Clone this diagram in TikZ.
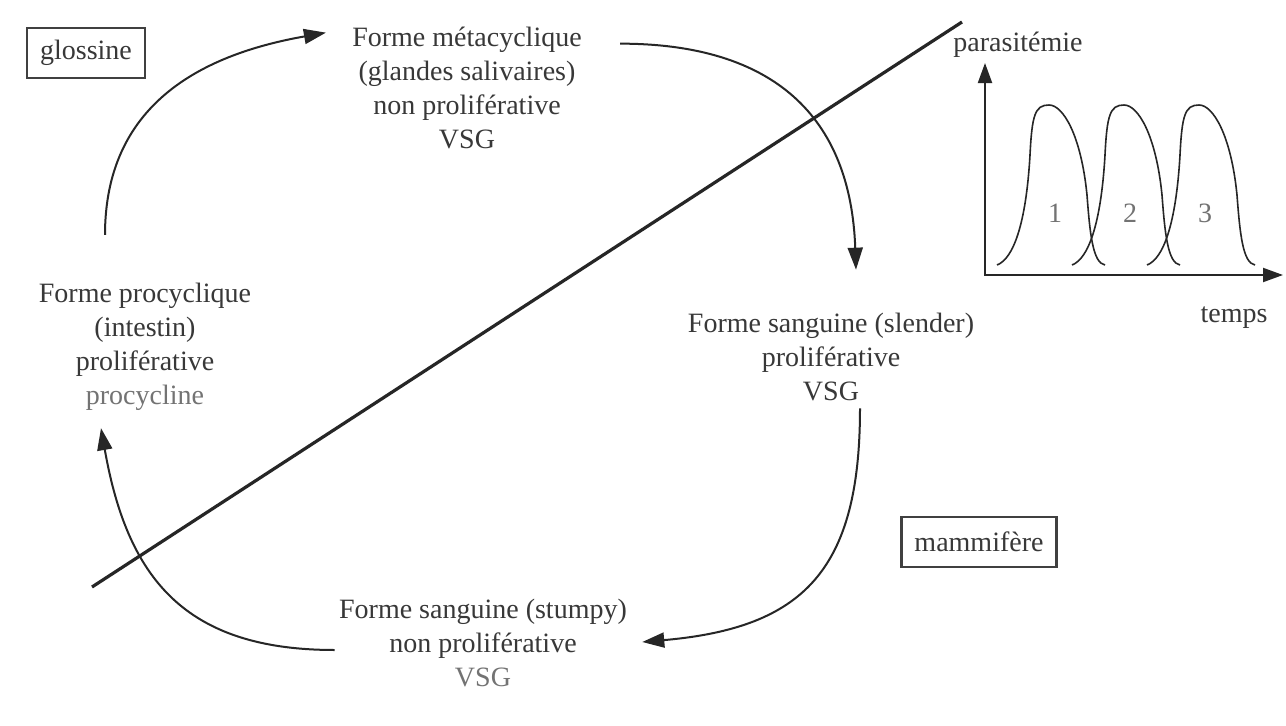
\documentclass[tikz,border=0pt]{standalone}
\usepackage{fontspec}
\setmainfont{Liberation Serif}
\usetikzlibrary{arrows.meta}
\begin{document}
\begin{tikzpicture}[x=0.5pt,y=0.5pt,
  txt/.style={align=center, font=\fontsize{14}{17}\selectfont, text=black!78, inner sep=0pt},
  tagbox/.style={draw=black!75, line width=1.1pt, font=\fontsize{14}{17}\selectfont, text=black!78,
    minimum height=25pt, inner xsep=6.5pt},
  cyc/.style={line width=1pt, draw=black!85, -{Triangle[length=11pt,width=7.5pt]}},
  axisline/.style={line width=1pt, draw=black!85, {Triangle[length=10pt,width=7pt]}-{Triangle[length=10pt,width=7pt]}},
  peak/.style={line width=0.8pt, draw=black!85},
  num/.style={font=\fontsize{14}{17}\selectfont, text=black!55, inner sep=0pt}]
\useasboundingbox (0,0) rectangle (1286,725);
\fill[white] (0,0) rectangle (1286,725);

% cycle nodes
\node[txt] (meta) at (467,637) {Forme métacyclique\\(glandes salivaires)\\non proliférative\\VSG};
\node[txt] (proc) at (145,378) {Forme procyclique\\(intestin)\\proliférative\\\textcolor{black!55}{procycline}};
\node[txt] (slender) at (831,368) {Forme sanguine (slender)\\proliférative\\VSG};
\node[txt] (stumpy) at (483,82) {Forme sanguine (stumpy)\\non proliférative\\\textcolor{black!55}{VSG}};

% host boxes
\node[tagbox] (gl) at (86,672) {glossine};
\node[tagbox] (mam) at (979,183) {mammifère};

% separating line
\coordinate (d1) at (92,138);
\coordinate (d2) at (962,703);
\draw[line width=1.6pt, black!85] (d1) -- (d2);

% cycle arrows
\draw[cyc] ([shift={(-40,48)}]proc.north) to[out=90,in=190,looseness=1.1] ([shift={(-26,-6)}]meta.north west);
\draw[cyc] ([shift={(38,-17)}]meta.north east) to[out=0,in=92,looseness=1.2] ([shift={(25,43)}]slender.north);
\draw[cyc] ([shift={(29,-7)}]slender.south) to[out=-90,in=5,looseness=1.3] ([shift={(15,1)}]stumpy.east);
\draw[cyc] ([shift={(-4,-7)}]stumpy.west) to[out=180,in=-80,looseness=1.2] ([shift={(-44,-17)}]proc.south);

% parasitemia graph
\coordinate (ytip) at (985,662);
\coordinate (org) at (985,450);
\coordinate (xtip) at (1283,450);
\draw[axisline] (ytip) -- (org) -- (xtip);
\node[txt] (ylab) at (1018,680) {parasitémie};
\node[txt] (xlab) at (1234,407) {temps};
\foreach \xo in {997,1072,1147}{
  \draw[peak, shift={(\xo,0)}] (0,460) .. controls (16,466) and (29,500) .. (33,570)
    .. controls (35,610) and (38,620) .. (52,620)
    .. controls (66,620) and (84,590) .. (90,530)
    .. controls (93,490) and (96,462) .. (108,460);
}
\node[num] (n1) at (1055,512) {1};
\node[num] (n2) at (1130,512) {2};
\node[num] (n3) at (1205,512) {3};
\end{tikzpicture}
\end{document}
